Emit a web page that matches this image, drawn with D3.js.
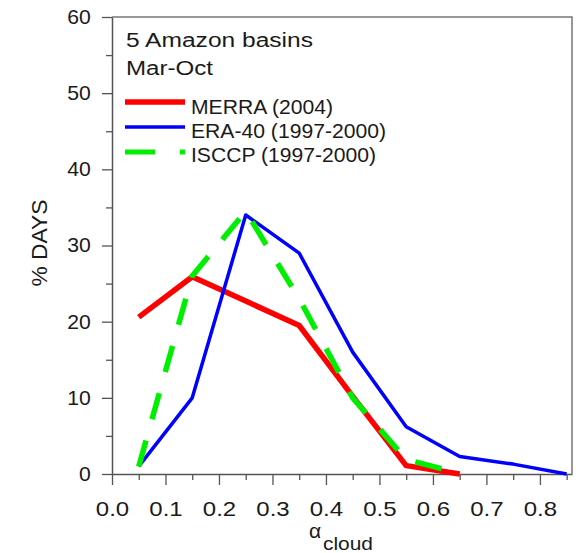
<!DOCTYPE html>
<html><head><meta charset="utf-8">
<script src="https://cdn.jsdelivr.net/npm/d3@7"></script>
<style>body{margin:0;background:#fff}svg{display:block}</style>
</head><body>
<svg id="c" width="583" height="553"></svg>
<script>
// ---- data ----
const alphaBins   = [0.05, 0.15, 0.25, 0.35, 0.45, 0.55, 0.65, 0.75, 0.85];
const merraValues = [20.6, 25.9, 22.7, 19.5, 10.2, 1.1, 0];
const era40Values = [1, 10, 34, 29, 16, 6.2, 2.3, 1.3, 0];
const isccpValues = [1, 26, 34.5, 23, 10, 1.9, 0.1];
const xTickValues = [0, 0.1, 0.2, 0.3, 0.4, 0.5, 0.6, 0.7, 0.8];
const xMinorTicks = [0.05, 0.15, 0.25, 0.35, 0.45, 0.55, 0.65, 0.75, 0.85];
const yTickValues = [0, 10, 20, 30, 40, 50, 60];
const yMinorTicks = [5, 15, 25, 35, 45, 55];
const seriesNames = ["MERRA (2004)", "ERA-40 (1997-2000)", "ISCCP (1997-2000)"];
const titleLines  = ["5 Amazon basins", "Mar-Oct"];
const yLabel = "% DAYS";
const xLabelMain = "\u03b1", xLabelSub = "cloud";

// ---- drawing ----
const svg = d3.select("#c");
const FONT = "'Liberation Sans', Arial, sans-serif";
const L = 112, R = 572, T = 17, B = 474;
const x = d3.scaleLinear().domain([0, 0.86]).range([L, R]);
const y = d3.scaleLinear().domain([0, 60]).range([B, T]);
const axisColor = "#555";
const textColor = "#1a1a1a";

// frame top/right
svg.append("path").attr("d", `M${L},${T}H${R}V${B}`)
  .attr("fill", "none").attr("stroke", "#777").attr("stroke-width", 1.5);

function styleAxis(g) {
  g.selectAll(".domain").attr("stroke", axisColor).attr("stroke-width", 1.5);
  g.selectAll(".tick line").attr("stroke", axisColor).attr("stroke-width", 1.3);
}

// left axis
const gy = svg.append("g").attr("transform", `translate(${L},0)`)
  .call(d3.axisLeft(y).tickValues(yTickValues).tickSize(10).tickSizeOuter(0).tickFormat(d3.format("d")));
styleAxis(gy);
gy.selectAll(".tick text").attr("x", -20).attr("transform", "scale(1.06,1)")
  .attr("font-family", FONT).attr("font-size", 20).attr("fill", textColor);
const gym = svg.append("g").attr("transform", `translate(${L},0)`)
  .call(d3.axisLeft(y).tickValues(yMinorTicks).tickSize(6).tickSizeOuter(0).tickFormat(""));
styleAxis(gym); gym.select(".domain").remove();

// bottom axis
const gx = svg.append("g").attr("transform", `translate(0,${B})`)
  .call(d3.axisBottom(x).tickValues(xTickValues).tickSize(11).tickSizeOuter(0).tickFormat(d3.format(".1f")));
styleAxis(gx);
gx.selectAll(".tick text").attr("y", 28).attr("transform", "scale(1.2,1)")
  .attr("font-family", FONT).attr("font-size", 20).attr("fill", textColor);
const gxm = svg.append("g").attr("transform", `translate(0,${B})`)
  .call(d3.axisBottom(x).tickValues(xMinorTicks).tickSize(6).tickSizeOuter(0).tickFormat(""));
styleAxis(gxm); gxm.select(".domain").remove();

// lines
const line = d3.line().x((d, i) => x(alphaBins[i])).y(d => y(d));
svg.append("path").datum(merraValues).attr("d", line)
  .attr("fill", "none").attr("stroke", "#ff0000").attr("stroke-width", 5.5).attr("stroke-linejoin", "round");
svg.append("path").datum(era40Values).attr("d", line)
  .attr("fill", "none").attr("stroke", "#0000ff").attr("stroke-width", 3.5).attr("stroke-linejoin", "round");
svg.append("path").datum(isccpValues).attr("d", line)
  .attr("fill", "none").attr("stroke", "#00ee00").attr("stroke-width", 5.5)
  .attr("stroke-dasharray", "27,22").attr("stroke-linejoin", "round");

// title
const titleLens = [187, 87];
const titleBase = [47, 75];
titleLines.forEach((t, i) => {
  svg.append("text").attr("x", 126).attr("y", titleBase[i]).text(t)
    .attr("font-family", FONT).attr("font-size", 20).attr("fill", textColor)
    .attr("textLength", titleLens[i]).attr("lengthAdjust", "spacingAndGlyphs");
});

// legend
const legColors = ["#ff0000", "#0000ff", "#00ee00"];
const legWidths = [5.5, 3.5, 5];
const legDash = [null, null, "30,25"];
const legLineY = [102, 127, 152];
const legTextY = [113.5, 137.5, 162];
const legLens = [142, 195, 185];
seriesNames.forEach((n, i) => {
  svg.append("line").attr("x1", 125).attr("x2", 185).attr("y1", legLineY[i]).attr("y2", legLineY[i])
    .attr("stroke", legColors[i]).attr("stroke-width", legWidths[i]).attr("stroke-dasharray", legDash[i]);
  svg.append("text").attr("x", 191).attr("y", legTextY[i]).text(n)
    .attr("font-family", FONT).attr("font-size", 20).attr("fill", textColor)
    .attr("textLength", legLens[i]).attr("lengthAdjust", "spacingAndGlyphs");
});

// y label
svg.append("text").attr("transform", "translate(47,243) rotate(-90)")
  .attr("text-anchor", "middle").text(yLabel)
  .attr("font-family", FONT).attr("font-size", 22).attr("fill", textColor)
  .attr("textLength", 87).attr("lengthAdjust", "spacingAndGlyphs");

// x label
svg.append("text").attr("x", 309).attr("y", 538).text(xLabelMain)
  .attr("font-family", FONT).attr("font-size", 21).attr("fill", textColor);
svg.append("text").attr("x", 323).attr("y", 550).text(xLabelSub)
  .attr("font-family", FONT).attr("font-size", 18).attr("fill", textColor)
  .attr("textLength", 50).attr("lengthAdjust", "spacingAndGlyphs");
</script>
</body></html>
